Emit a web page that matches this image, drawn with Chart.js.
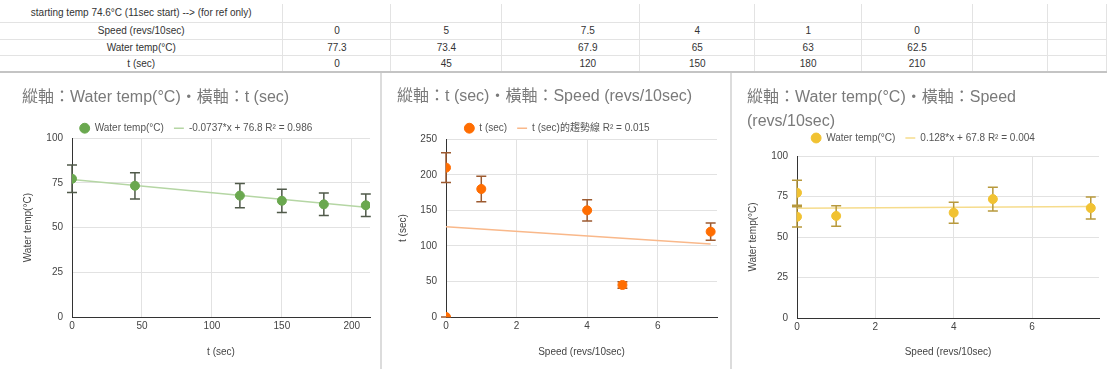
<!DOCTYPE html>
<html>
<head>
<meta charset="utf-8">
<script src="https://cdn.jsdelivr.net/npm/chart.js@4.4.0/dist/chart.umd.min.js"></script>
<style>
  body { margin: 0; width: 1107px; height: 369px; overflow: hidden; background: #fff; position: relative;
         font-family: Arial, "Liberation Sans", "Noto Sans CJK TC", sans-serif; }
  #sheet { position: absolute; left: 0; top: 4px; border-collapse: collapse; table-layout: fixed; font-size: 10px; color: #333; }
  #sheet td { border: 1px solid #e3e3e3; text-align: center; padding: 0; white-space: nowrap; overflow: hidden; }
  #sheet tr:last-child td { border-bottom: 2px solid #c4c4c4; }
  #sheet td:first-child { border-left: none; }
  #sheet tr:first-child td { border-top: none; }
  .panel { position: absolute; top: 75px; height: 294px; background: #fff; }
  .sep { position: absolute; top: 73px; height: 296px; width: 2px; background: #dcdcdc; }
</style>
</head>
<body>
<table id="sheet"></table>
<div class="panel" style="left:0;width:380px"><canvas id="c1" width="380" height="294"></canvas></div>
<div class="sep" style="left:380px"></div>
<div class="panel" style="left:382px;width:348px"><canvas id="c2" width="348" height="294"></canvas></div>
<div class="sep" style="left:730px"></div>
<div class="panel" style="left:732px;width:375px"><canvas id="c3" width="375" height="294"></canvas></div>
<script>
// sheet data
var noteText = 'starting temp 74.6°C (11sec start) --> (for ref only)';
var speedLabel = 'Speed (revs/10sec)';
var tempLabel = 'Water temp(°C)';
var timeLabel = 't (sec)';
var speed = [0, 5, 7.5, 4, 1, 0];
var waterTemp = [77.3, 73.4, 67.9, 65, 63, 62.5];
var timeSec = [0, 45, 120, 150, 180, 210];
var errorPct = 0.1;

var colWidths = [283, 108, 111, 138, 115, 107, 111, 75, 59];
var rowHeights = [18, 17, 16, 17];

function buildSheet() {
    var rows = [
        [noteText],
        [speedLabel].concat(speed),
        [tempLabel].concat(waterTemp),
        [timeLabel].concat(timeSec)
    ];
    var html = '<colgroup>';
    colWidths.forEach(function(w) { html += '<col style="width:' + w + 'px">'; });
    html += '</colgroup>';
    rows.forEach(function(r, ri) {
        html += '<tr style="height:' + rowHeights[ri] + 'px">';
        for (var c = 0; c < colWidths.length; c++) {
            var v = r[c] !== undefined ? r[c] : '';
            var extra = c === 3 ? ' style="padding-left:34px"' : '';
            html += '<td' + extra + '>' + v + '</td>';
        }
        html += '</tr>';
    });
    document.getElementById('sheet').innerHTML = html;
}
buildSheet();

function linearFit(xs, ys) {
    var n = xs.length, mx = 0, my = 0, sxy = 0, sxx = 0;
    for (var i = 0; i < n; i++) { mx += xs[i] / n; my += ys[i] / n; }
    for (var i = 0; i < n; i++) { sxy += (xs[i] - mx) * (ys[i] - my); sxx += (xs[i] - mx) * (xs[i] - mx); }
    var m = sxy / sxx;
    return { m: m, b: my - m * mx };
}

// draws the 10% error bars right before the scatter points
var errorBars = {
    id: 'errorBars',
    beforeDatasetDraw: function(chart, args) {
        var ds = chart.data.datasets[args.index];
        if (!ds.errorColor) return;
        var ctx = chart.ctx, xs = chart.scales.x, ys = chart.scales.y;
        ctx.save();
        ctx.strokeStyle = ds.errorColor;
        ctx.lineWidth = 1.5;
        ds.data.forEach(function(p) {
            var px = xs.getPixelForValue(p.x);
            var top = ys.getPixelForValue(p.y * (1 + errorPct));
            var bot = ys.getPixelForValue(p.y * (1 - errorPct));
            ctx.beginPath();
            ctx.moveTo(px, top); ctx.lineTo(px, bot);
            ctx.moveTo(px - 5, top); ctx.lineTo(px + 5, top);
            ctx.moveTo(px - 5, bot); ctx.lineTo(px + 5, bot);
            ctx.stroke();
        });
        ctx.restore();
    }
};

function legendTrim(px) {
    return {
        id: 'legendTrim',
        beforeInit: function(chart) {
            var lg = chart.legend;
            if (!lg || lg._trimmed) return;
            var fit = lg.fit;
            lg.fit = function() { fit.call(this); this.height -= px; };
            lg._trimmed = true;
        }
    };
}

var fontFamily = 'Arial, "Liberation Sans", "Noto Sans CJK TC", sans-serif';

function makeChart(cfg) {
    var fit = linearFit(cfg.xs, cfg.ys);
    var x0 = Math.min.apply(null, cfg.xs), x1 = Math.max.apply(null, cfg.xs);
    var points = cfg.xs.map(function(x, i) { return { x: x, y: cfg.ys[i] }; });
    var ctx = document.getElementById(cfg.id).getContext('2d');
    return new Chart(ctx, {
        type: 'scatter',
        data: {
            datasets: [
                {
                    label: cfg.seriesLabel,
                    data: points,
                    backgroundColor: cfg.color,
                    borderColor: cfg.color,
                    pointRadius: 4.5,
                    pointHoverRadius: 4.5,
                    pointStyle: 'circle',
                    errorColor: cfg.barColor,
                    order: 1
                },
                {
                    label: cfg.trendLabel,
                    data: [{ x: x0, y: fit.m * x0 + fit.b }, { x: x1, y: fit.m * x1 + fit.b }],
                    showLine: true,
                    borderColor: cfg.trendColor,
                    backgroundColor: cfg.trendColor,
                    borderWidth: 1.5,
                    pointRadius: 0,
                    pointStyle: 'line',
                    order: 2
                }
            ]
        },
        options: {
            responsive: false,
            animation: false,
            layout: { padding: { left: cfg.padLeft, right: cfg.padRight, top: 0, bottom: 0 } },
            plugins: {
                title: {
                    display: true,
                    text: cfg.title,
                    align: 'start',
                    color: '#7a7a7a',
                    font: { family: fontFamily, size: 16, weight: 'normal', lineHeight: cfg.titleLH },
                    padding: cfg.titlePad
                },
                legend: {
                    display: true,
                    labels: {
                        usePointStyle: true,
                        boxWidth: 10,
                        boxHeight: 7,
                        padding: 10,
                        color: '#555',
                        font: { family: fontFamily, size: 10 }
                    }
                },
                tooltip: { enabled: false }
            },
            scales: {
                x: {
                    type: 'linear',
                    min: 0,
                    max: cfg.xMax,
                    afterFit: function(s) { s.height = cfg.xHeight; },
                    ticks: { stepSize: cfg.xStep, includeBounds: false, padding: 3, color: '#444', font: { family: fontFamily, size: 10 } },
                    grid: { color: '#e2e2e2', drawTicks: false },
                    border: { color: '#333', width: 1 },
                    title: { display: true, text: cfg.xTitle, color: '#444', font: { family: fontFamily, size: 10 }, padding: { top: 0, bottom: 11 } }
                },
                y: {
                    min: 0,
                    max: cfg.yMax,
                    afterFit: function(s) { s.width = cfg.yWidth; },
                    ticks: { stepSize: cfg.yStep, padding: 9, color: '#444', font: { family: fontFamily, size: 10 } },
                    grid: { color: '#e2e2e2', drawTicks: false },
                    border: { color: '#333', width: 1 },
                    title: { display: true, text: cfg.yTitle, color: '#444', font: { family: fontFamily, size: 10 }, padding: { top: 0, bottom: 0 } }
                }
            }
        },
        plugins: [errorBars, legendTrim(cfg.trim)]
    });
}

makeChart({
    id: 'c1', xs: timeSec, ys: waterTemp,
    color: '#6aa84f', trendColor: '#b5d6a4', barColor: '#505a4a',
    title: '縱軸：Water temp(°C)・橫軸：t (sec)', titleLH: 1.2, titlePad: { top: 13, bottom: 6 },
    seriesLabel: tempLabel, trendLabel: '-0.0737*x + 76.8 R² = 0.986',
    xTitle: timeLabel, yTitle: tempLabel,
    xMax: 213, xStep: 50, yMax: 100, yStep: 25,
    padLeft: 22, padRight: 10, yWidth: 50, xHeight: 52, trim: 5
});

makeChart({
    id: 'c2', xs: speed, ys: timeSec,
    color: '#ff6d01', trendColor: '#f9b88a', barColor: '#9c5a30',
    title: '縱軸：t (sec)・橫軸：Speed (revs/10sec)', titleLH: 1.2, titlePad: { top: 12, bottom: 7 },
    seriesLabel: timeLabel, trendLabel: 't (sec)的趨勢線 R² = 0.015',
    xTitle: speedLabel, yTitle: timeLabel,
    xMax: 7.68, xStep: 2, yMax: 250, yStep: 50,
    padLeft: 15, padRight: 13, yWidth: 49, xHeight: 52, trim: 4
});

makeChart({
    id: 'c3', xs: speed, ys: waterTemp,
    color: '#f1c232', trendColor: '#f6dc8c', barColor: '#b8993c',
    title: ['縱軸：Water temp(°C)・橫軸：Speed', '(revs/10sec)'], titleLH: 1.5, titlePad: { top: 11, bottom: -11 },
    seriesLabel: tempLabel, trendLabel: '0.128*x + 67.8 R² = 0.004',
    xTitle: speedLabel, yTitle: tempLabel,
    xMax: 7.71, xStep: 2, yMax: 100, yStep: 25,
    padLeft: 15, padRight: 8, yWidth: 50, xHeight: 51, trim: -3
});
</script>
</body>
</html>
